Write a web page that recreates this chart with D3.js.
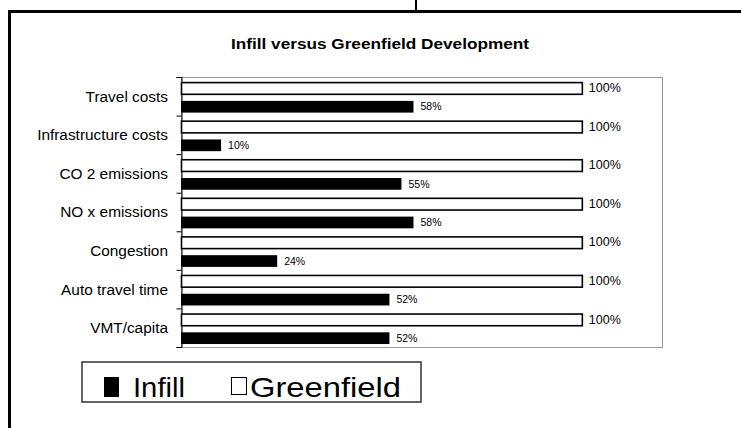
<!DOCTYPE html>
<html>
<head>
<script src="https://cdnjs.cloudflare.com/ajax/libs/d3/7.8.5/d3.min.js"></script>
<style>
    body { margin: 0; background: #fff; font-family: 'Liberation Sans', Arial, sans-serif; }
    svg { display: block; }
</style>
</head>
<body>
<div id="chart"></div>
<script>
    var categories = ["Travel costs", "Infrastructure costs", "CO 2 emissions", "NO x emissions",
                      "Congestion", "Auto travel time", "VMT/capita"];
    var infill = [58, 10, 55, 58, 24, 52, 52];
    var greenfield = [100, 100, 100, 100, 100, 100, 100];
    var seriesNames = ["Greenfield", "Infill"];

    var W = 741, H = 428;
    var svg = d3.select("#chart").append("svg").attr("width", W).attr("height", H);

    // outer frame (cut off at the right and bottom)
    svg.append("rect").attr("x", 9.5).attr("y", 11.5).attr("width", 800).attr("height", 500)
        .attr("fill", "none").attr("stroke", "#000").attr("stroke-width", 3);
    svg.append("line").attr("x1", 416).attr("x2", 416).attr("y1", 0).attr("y2", 10)
        .attr("stroke", "#000").attr("stroke-width", 2);

    svg.append("text").attr("x", 380).attr("y", 49).attr("text-anchor", "middle")
        .attr("font-size", 14).attr("font-weight", "bold")
        .attr("textLength", 298).attr("lengthAdjust", "spacingAndGlyphs")
        .text("Infill versus Greenfield Development");

    var plot = {left: 181, right: 662, top: 77, bottom: 347};

    var x = d3.scaleLinear().domain([0, 120]).range([plot.left, plot.right]);
    var y = d3.scaleBand().domain(categories).range([plot.top, plot.bottom]);
    var sub = d3.scaleBand().domain(seriesNames).range([5.6, 35.6]).paddingInner(0.36);

    // plot area border
    svg.append("rect").attr("x", plot.left + 0.5).attr("y", plot.top + 0.5)
        .attr("width", plot.right - plot.left).attr("height", plot.bottom - plot.top)
        .attr("fill", "none").attr("stroke", "#999").attr("stroke-width", 1);

    // category axis with ticks between bands
    var yIdx = d3.scaleLinear().domain([0, categories.length]).range([plot.top, plot.bottom]);
    svg.append("g").attr("transform", "translate(" + (plot.left + 0.5) + ",0)")
        .call(d3.axisLeft(yIdx).ticks(categories.length).tickFormat("").tickSize(5).tickSizeOuter(5))
        .call(function (g) { g.selectAll("line,path").attr("stroke", "#000"); });

    svg.append("g").selectAll("text").data(categories).enter().append("text")
        .attr("x", 168).attr("y", function (d) { return y(d) + y.bandwidth() / 2; })
        .attr("dy", "0.35em").attr("text-anchor", "end").attr("font-size", 15.4)
        .text(function (d) { return d; });

    // greenfield bars
    svg.append("g").selectAll("rect").data(greenfield).enter().append("rect")
        .attr("x", x(0) + 0.5)
        .attr("y", function (d, i) { return y(categories[i]) + sub("Greenfield"); })
        .attr("width", function (d) { return x(d) - x(0); })
        .attr("height", sub.bandwidth())
        .attr("fill", "#fff").attr("stroke", "#000").attr("stroke-width", 1.6);

    // infill bars
    svg.append("g").selectAll("rect").data(infill).enter().append("rect")
        .attr("x", x(0))
        .attr("y", function (d, i) { return y(categories[i]) + sub("Infill"); })
        .attr("width", function (d) { return x(d) - x(0); })
        .attr("height", sub.bandwidth())
        .attr("fill", "#000");

    // value labels
    svg.append("g").selectAll("text").data(greenfield).enter().append("text")
        .attr("x", function (d) { return x(d) + 7; })
        .attr("y", function (d, i) { return y(categories[i]) + sub("Greenfield") + sub.bandwidth() / 2; })
        .attr("dy", "0.3em").attr("font-size", 12.5)
        .text(function (d) { return d + "%"; });

    svg.append("g").selectAll("text").data(infill).enter().append("text")
        .attr("x", function (d) { return x(d) + 7; })
        .attr("y", function (d, i) { return y(categories[i]) + sub("Infill") + sub.bandwidth() / 2; })
        .attr("dy", "0.35em").attr("font-size", 10.5)
        .text(function (d) { return d + "%"; });

    // legend
    var lg = svg.append("g");
    lg.append("rect").attr("x", 82).attr("y", 362).attr("width", 339).attr("height", 40)
        .attr("fill", "#fff").attr("stroke", "#333").attr("stroke-width", 1.5);
    lg.append("rect").attr("x", 104).attr("y", 377).attr("width", 15).attr("height", 20).attr("fill", "#000");
    lg.append("text").attr("x", 133).attr("y", 397).attr("font-size", 28)
        .attr("textLength", 52).attr("lengthAdjust", "spacingAndGlyphs").text(seriesNames[1]);
    lg.append("rect").attr("x", 231.5).attr("y", 377.5).attr("width", 15).attr("height", 17)
        .attr("fill", "#fff").attr("stroke", "#000").attr("stroke-width", 1);
    lg.append("text").attr("x", 250).attr("y", 397).attr("font-size", 28)
        .attr("textLength", 151).attr("lengthAdjust", "spacingAndGlyphs").text(seriesNames[0]);
</script>
</body>
</html>
